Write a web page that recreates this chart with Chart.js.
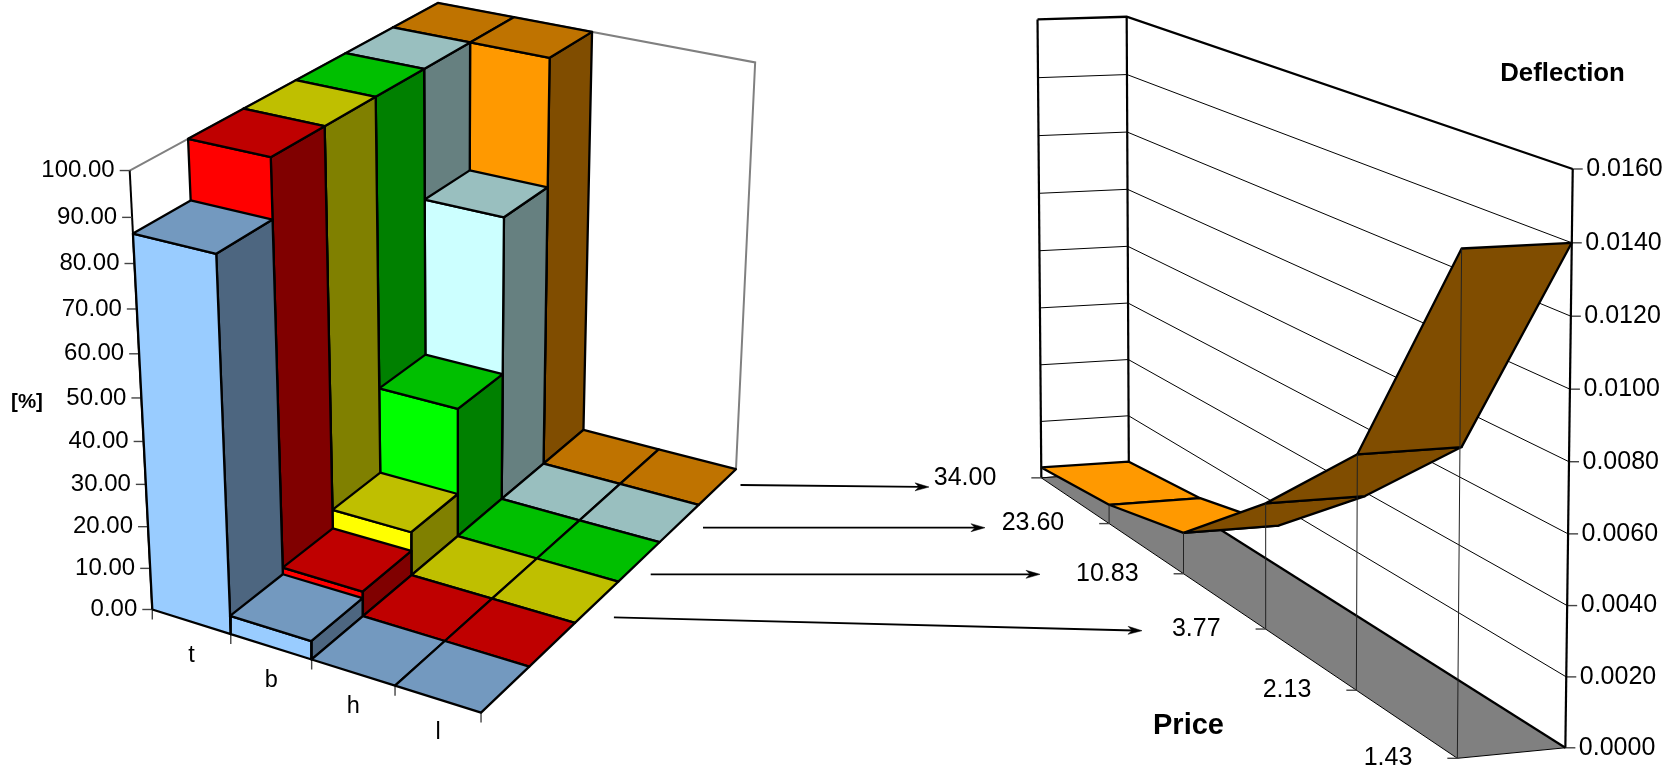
<!DOCTYPE html>
<html>
<head>
<meta charset="utf-8">
<title>Deflection</title>
<script src="https://cdn.jsdelivr.net/npm/chart.js@4"></script>
<style>
  html, body { margin: 0; padding: 0; background: #fff; }
  canvas { display: block; }
</style>
</head>
<body>
<canvas id="chart" width="1675" height="771"></canvas>
<script>
// share of each row per category, [%]
const categories = ['t', 'b', 'h', 'l'];
const blueRow = [86.5, 4.4, 0, 0];
const redRow = [100, 6, 0, 0];
const yellowRow = [100, 10.6, 0, 0];
const greenRow = [100, 31.6, 0, 0];
const cyanRow = [100, 69.5, 0, 0];
const orangeRow = [100, 100, 0, 0];
const percentTicks = [0, 10, 20, 30, 40, 50, 60, 70, 80, 90, 100];

// deflection per price, along both edges of the ribbon
const prices = ['34.00', '23.60', '10.83', '3.77', '2.13', '1.43'];
const deflectionNear = [0.00037, 0.00064, 0.00133, 0.00388, 0.0069, 0.0140];
const deflectionFar = [0.00036, 0.00064, 0.00133, 0.00388, 0.0069, 0.0140];
const deflectionTicks = [0, 0.002, 0.004, 0.006, 0.008, 0.010, 0.012, 0.014, 0.016];

const rows = [blueRow, redRow, yellowRow, greenRow, cyanRow, orangeRow];
const frontColors = ['#99CCFF', '#FF0000', '#FFFF00', '#00FF00', '#CCFFFF', '#FF9900'];
const topColors = ['#7399BF', '#BF0000', '#BFBF00', '#00BF00', '#99BFBF', '#BF7300'];
const sideColors = ['#4D6680', '#800000', '#808000', '#008000', '#668080', '#804D00'];

// view anchors: u, v, value -> page x, page y, weight. The cameras are fitted to these.
const leftAnchors = [
  [0, 0, 0, 152, 610.7, 2], [1, 0, 0, 230, 633.3, 3], [2, 0, 0, 312, 658.3, 3], [3, 0, 0, 395.7, 685.7, 3],
  [4, 0, 0, 480.7, 713.3, 4], [4, 1, 0, 529.3, 666, 1], [4, 2, 0, 574.8, 622.7, 1], [4, 3, 0, 619, 581, 1],
  [4, 4, 0, 659.4, 542.3, 1], [4, 5, 0, 698.4, 505, 1], [4, 6, 0, 735.7, 470, 1], [3, 6, 0, 657.2, 449.3, 1],
  [2, 6, 0, 584.4, 430, 1], [2, 3, 0, 459, 536.7, 1], [2, 1, 0, 363.7, 616.7, 1],
  [0, 0, 50, 141, 397, 1], [0, 0, 100, 129.3, 171, 1], [0, 1, 100, 187, 140, 1], [0, 3, 100, 297.5, 80, 1],
  [0, 5, 100, 392, 26.7, 1], [0, 6, 100, 438.8, 3.3, 1], [1, 1, 100, 271.6, 157.3, 1], [1, 3, 100, 375.6, 97.3, 1],
  [1, 5, 100, 470, 42.7, 1], [1, 6, 100, 513.4, 17.3, 1], [2, 5, 100, 549.3, 58.3, 1], [2, 6, 100, 592, 30.7, 1],
  [4, 6, 100, 755, 61.7, 1]
];
const rightAnchors = [
  [0, 0, 0, 1041.8, 477.7, 1], [1, 0, 0, 1109.8, 524.3, 1], [2, 0, 0, 1183, 574.3, 1], [3, 0, 0, 1264.7, 629.3, 1],
  [4, 0, 0, 1356.4, 690, 1], [5, 0, 0, 1457.6, 757.7, 1], [0, 1, 0, 1128.5, 471, 1], [5, 1, 0, 1566, 747.7, 1],
  [0, 0, 0.016, 1037.5, 19.3, 1], [0, 1, 0.016, 1127, 16.7, 1], [5, 1, 0.016, 1572.5, 169, 1],
  [5, 1, 0.008, 1569, 462, 1], [0, 1, 0.008, 1127.5, 247, 1], [0, 0, 0.008, 1039.5, 250.3, 1]
];

// weighted least squares fit of a projective camera, value axis normalised by maxValue
function fitCamera(anchors, maxValue) {
  const n = 11;
  const m = Array.from({ length: n }, () => new Array(n + 1).fill(0));
  function addRow(row, rhs, weight) {
    for (let i = 0; i < n; i++) {
      for (let j = 0; j < n; j++) m[i][j] += weight * row[i] * row[j];
      m[i][n] += weight * row[i] * rhs;
    }
  }
  anchors.forEach(a => {
    const u = a[0], v = a[1], w = a[2] / maxValue, x = a[3] / 1000, y = a[4] / 1000;
    addRow([u, v, w, 1, 0, 0, 0, 0, -x * u, -x * v, -x * w], x, a[5]);
    addRow([0, 0, 0, 0, u, v, w, 1, -y * u, -y * v, -y * w], y, a[5]);
  });
  for (let c = 0; c < n; c++) {
    let pivot = c;
    for (let r = c + 1; r < n; r++) if (Math.abs(m[r][c]) > Math.abs(m[pivot][c])) pivot = r;
    [m[c], m[pivot]] = [m[pivot], m[c]];
    for (let r = 0; r < n; r++) {
      if (r === c) continue;
      const f = m[r][c] / m[c][c];
      for (let k = c; k <= n; k++) m[r][k] -= f * m[c][k];
    }
  }
  const p = m.map((row, i) => row[n] / row[i]);
  return function (u, v, value) {
    const w = value / maxValue;
    const d = p[8] * u + p[9] * v + p[10] * w + 1;
    return {
      x: 1000 * (p[0] * u + p[1] * v + p[2] * w + p[3]) / d,
      y: 1000 * (p[4] * u + p[5] * v + p[6] * w + p[7]) / d
    };
  };
}

const leftView = fitCamera(leftAnchors, 100);
const rightView = fitCamera(rightAnchors, 0.016);

const datasets = [];
const labels = [];

function shape(points, fillColor, lineColor, lineWidth) {
  datasets.push({
    data: points.concat([points[0]]),
    showLine: true,
    fill: 'shape',
    backgroundColor: fillColor,
    borderColor: lineColor,
    borderWidth: lineWidth,
    borderJoinStyle: 'round',
    pointRadius: 0,
    tension: 0,
    clip: false
  });
}

function line(points, lineColor, lineWidth) {
  datasets.push({
    data: points,
    showLine: true,
    fill: false,
    borderColor: lineColor,
    borderWidth: lineWidth,
    pointRadius: 0,
    tension: 0,
    clip: false
  });
}

function arrow(from, to) {
  const a = Math.atan2(to.y - from.y, to.x - from.x);
  const at = (back, side) => ({
    x: to.x - back * Math.cos(a) - side * Math.sin(a),
    y: to.y - back * Math.sin(a) + side * Math.cos(a)
  });
  line([from, at(8, 0)], '#000', 1.8);
  shape([to, at(14, 4), at(10, 0), at(14, -4)], '#000', '#000', 0.5);
}

function label(text, x, y, align, font) {
  labels.push({ text, x, y, align, font });
}

const leftTickFont = '24px "Liberation Sans"';
const rightTickFont = '25px "Liberation Sans"';
const edgeWidth = 2.3;

// --- stacked share bars ---
const lv = leftView;
line([lv(0, 0, 100), lv(0, 6, 100), lv(4, 6, 100), lv(4, 6, 0)], '#808080', 2);
line([lv(0, 0, 0), lv(0, 0, 100)], '#000', 2);

percentTicks.forEach(t => {
  const p = lv(0, 0, t);
  line([{ x: p.x - 10, y: p.y }, p], '#444', 1.4);
  label(t.toFixed(2), p.x - 15, p.y, 'right', leftTickFont);
});

categories.forEach((name, i) => {
  const a = lv(i, 0, 0), b = lv(i + 1, 0, 0);
  label(name, (a.x + b.x) / 2, (a.y + b.y) / 2 + 33.5, 'center', '23.5px "Liberation Sans"');
});
for (let u = 0; u <= categories.length; u++) {
  const p = lv(u, 0, 0);
  line([p, { x: p.x, y: p.y + 10 }], '#444', 1.4);
}

// back rows first, left columns first, so nearer bars paint over
for (let v = rows.length - 1; v >= 0; v--) {
  for (let u = 0; u < categories.length; u++) {
    const h = rows[v][u];
    if (h > 0) {
      shape([lv(u + 1, v, 0), lv(u + 1, v + 1, 0), lv(u + 1, v + 1, h), lv(u + 1, v, h)], sideColors[v], '#000', edgeWidth);
      shape([lv(u, v, 0), lv(u + 1, v, 0), lv(u + 1, v, h), lv(u, v, h)], frontColors[v], '#000', edgeWidth);
    }
    shape([lv(u, v, h), lv(u + 1, v, h), lv(u + 1, v + 1, h), lv(u, v + 1, h)], topColors[v], '#000', edgeWidth);
  }
}
label('[%]', 27, 402.5, 'center', 'bold 20.5px "Liberation Sans"');

// --- deflection ribbon ---
const rv = rightView;
const lastPrice = prices.length - 1;
deflectionTicks.forEach(t => {
  const top = t === 0.016;
  line([rv(0, 0, t), rv(0, 1, t), rv(lastPrice, 1, t)], '#000', top ? 2.3 : 1);
  const p = rv(lastPrice, 1, t);
  line([p, { x: p.x + 10, y: p.y }], '#444', 1.4);
  label(t.toFixed(4), p.x + 13.5, p.y, 'left', rightTickFont);
});
line([rv(0, 0, 0), rv(0, 0, 0.016)], '#000', 2.2);
line([rv(0, 1, 0), rv(0, 1, 0.016)], '#000', 2.2);
line([rv(lastPrice, 1, 0), rv(lastPrice, 1, 0.016)], '#000', 2.2);

shape([rv(0, 0, 0), rv(0, 1, 0), rv(lastPrice, 1, 0), rv(lastPrice, 0, 0)], '#808080', '#000', 1);
line([rv(0, 1, 0), rv(lastPrice, 1, 0)], '#000', 2.2);

for (let p = 0; p < lastPrice; p++) {
  const cell = [
    rv(p, 0, deflectionNear[p]), rv(p, 1, deflectionFar[p]),
    rv(p + 1, 1, deflectionFar[p + 1]), rv(p + 1, 0, deflectionNear[p + 1])
  ];
  // the upper side of a cell is orange, its underside brown
  const cross = (cell[1].x - cell[0].x) * (cell[2].y - cell[1].y) - (cell[1].y - cell[0].y) * (cell[2].x - cell[1].x);
  shape(cell, cross > 0 ? '#FF9900' : '#804D00', '#000', edgeWidth);
}

prices.forEach((price, p) => {
  const floor = rv(p, 0, 0);
  if (p > 0) line([floor, rv(p, 0, deflectionNear[p])], '#222', 1);
  line([{ x: floor.x - 10, y: floor.y }, floor], '#444', 1.4);
  label(price, floor.x - 45, floor.y, 'right', rightTickFont);
});
label('Deflection', 1562.5, 74, 'center', 'bold 25.8px "Liberation Sans"');
label('Price', 1188.5, 725.5, 'center', 'bold 29px "Liberation Sans"');

// arrows linking the bar rows to their prices
arrow({ x: 740.5, y: 485 }, { x: 929, y: 487 });
arrow({ x: 703, y: 527.7 }, { x: 985, y: 527.7 });
arrow({ x: 650.7, y: 574.3 }, { x: 1040, y: 574.3 });
arrow({ x: 613.9, y: 617.3 }, { x: 1142, y: 630.7 });

const textPlugin = {
  id: 'pageText',
  afterDraw(chart) {
    const ctx = chart.ctx;
    ctx.save();
    ctx.fillStyle = '#000';
    ctx.textBaseline = 'middle';
    labels.forEach(l => {
      ctx.font = l.font;
      ctx.textAlign = l.align;
      ctx.fillText(l.text, chart.scales.x.getPixelForValue(l.x), chart.scales.y.getPixelForValue(l.y));
    });
    ctx.restore();
  }
};

new Chart(document.getElementById('chart'), {
  type: 'scatter',
  // Chart.js paints the last dataset first
  data: { datasets: datasets.reverse() },
  plugins: [textPlugin],
  options: {
    responsive: false,
    animation: false,
    layout: { padding: 0 },
    plugins: { legend: { display: false }, tooltip: { enabled: false } },
    scales: {
      x: { type: 'linear', min: 0, max: 1675, display: false },
      y: { type: 'linear', min: 0, max: 771, reverse: true, display: false }
    }
  }
});
</script>
</body>
</html>
